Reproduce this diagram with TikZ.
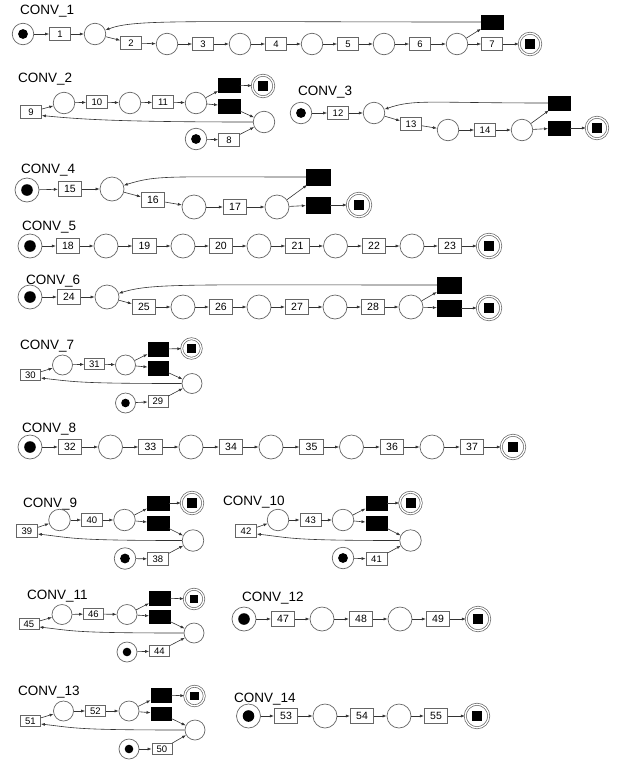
\documentclass[tikz,border=0pt]{standalone}
\usepackage{fontspec}
\setmainfont{Liberation Sans}
\usetikzlibrary{arrows.meta}

\def\tokr{4.9pt}
\def\sqh{5pt}

\tikzset{
  place/.style={circle, draw=black!60, line width=.7pt, minimum size=21.5pt, inner sep=0pt},
  initplace/.style={place, path picture={\fill[black] (path picture bounding box.center) circle (\tokr);}},
  endplace/.style={place, double, double distance=1.3pt,
    path picture={\fill[black] ([shift={(-\sqh,-\sqh)}]path picture bounding box.center) rectangle ([shift={(\sqh,\sqh)}]path picture bounding box.center);}},
  trans/.style={rectangle, draw=black!60, line width=.7pt, minimum width=21pt, minimum height=12.5pt, inner sep=0pt, font=\fontsize{9.5}{9.5}\selectfont},
  silent/.style={rectangle, fill=black, draw=black, minimum width=21.5pt, minimum height=14.5pt, inner sep=0pt},
  netlabel/.style={anchor=base west, inner sep=0pt, font=\fontsize{13.5}{14}\selectfont},
  arcto/.style={draw=black!80, line width=.6pt, -{Latex[length=4pt,width=3pt]}},
  small net/.style={place/.append style={minimum size=20pt},
    trans/.append style={minimum width=20pt, minimum height=11.5pt, font=\fontsize{9.5}{9.5}\selectfont},
    silent/.append style={minimum width=20.5pt, minimum height=13.5pt},
    endplace/.append style={minimum size=19.5pt},
    /utils/exec={\def\tokr{4.3pt}\def\sqh{4.2pt}}},
  mid net/.style={},
  big net/.style={place/.append style={minimum size=24pt},
    trans/.append style={minimum width=23.5pt, minimum height=14.5pt, font=\fontsize{10.5}{10.5}\selectfont},
    silent/.append style={minimum width=24pt, minimum height=15.5pt},
    endplace/.append style={minimum size=23.5pt},
    /utils/exec={\def\tokr{5.8pt}\def\sqh{5.2pt}}}
}

\begin{document}
\begin{tikzpicture}[x=1pt, y=-1pt]
\useasboundingbox (0,0) rectangle (623,761);

% CONV_1
\begin{scope}[mid net]
\node[netlabel] (l1) at (20,14) {CONV\_1};
\node[initplace] (c1s) at (23,34) {};
\node[trans] (t1) at (60,34) {1};
\node[place] (c1p1) at (95,34) {};
\node[trans] (t2) at (131,43) {2};
\node[place] (c1p2) at (167,44) {};
\node[trans] (t3) at (203,44) {3};
\node[place] (c1p3) at (240,44) {};
\node[trans] (t4) at (276,44) {4};
\node[place] (c1p4) at (312,44) {};
\node[trans] (t5) at (348,44) {5};
\node[place] (c1p5) at (384,44) {};
\node[trans] (t6) at (420,44) {6};
\node[place] (c1p6) at (457,44) {};
\node[trans] (t7) at (492,44) {7};
\node[silent] (c1h1) at (492,22) {};
\node[endplace] (c1e) at (530,44) {};
\foreach \a/\b in {c1s/t1, t1/c1p1, c1p1/t2, t2/c1p2, c1p2/t3, t3/c1p3, c1p3/t4, t4/c1p4,
    c1p4/t5, t5/c1p5, c1p5/t6, t6/c1p6, c1p6/t7, t7/c1e, c1p6/c1h1}
  \draw[arcto] (\a) -- (\b);
\draw[arcto] (c1h1.west) .. controls +(-300,0) and +(40,-15) .. (c1p1);
\end{scope}

% CONV_2
\begin{scope}[mid net]
\node[netlabel] (l2) at (18,82) {CONV\_2};
\node[trans] (t9) at (31,112) {9};
\node[place] (c2p1) at (64,103) {};
\node[trans] (t10) at (97,102) {10};
\node[place] (c2p2) at (130,103) {};
\node[trans] (t11) at (163,102) {11};
\node[place] (c2p3) at (196,103) {};
\node[silent] (c2h1) at (229,85) {};
\node[endplace] (c2e) at (263,86) {};
\node[silent] (c2h2) at (229,106) {};
\node[place] (c2p4) at (264,122) {};
\node[initplace] (c2s) at (196,139) {};
\node[trans] (t8) at (229,140) {8};
\foreach \a/\b in {c2s/t8, t8/c2p4, t9/c2p1, c2p1/t10, t10/c2p2, c2p2/t11, t11/c2p3,
    c2p3/c2h1, c2p3/c2h2, c2h1/c2e, c2h2/c2p4}
  \draw[arcto] (\a) -- (\b);
\draw[arcto] (c2p4) .. controls +(-140,0) and +(40,4) .. ([yshift=-3.5pt]t9.east);
\end{scope}

% CONV_3
\begin{scope}[mid net]
\node[netlabel] (l3) at (298,95) {CONV\_3};
\node[initplace] (c3s) at (301,113) {};
\node[trans] (t12) at (338,113) {12};
\node[place] (c3p1) at (374,113) {};
\node[trans] (t13) at (411,124) {13};
\node[place] (c3p2) at (448,130) {};
\node[trans] (t14) at (485,130) {14};
\node[place] (c3p3) at (522,130) {};
\node[silent] (c3h1) at (559,103) {};
\node[silent] (c3h2) at (559,128) {};
\node[endplace] (c3e) at (597,128) {};
\foreach \a/\b in {c3s/t12, t12/c3p1, c3p1/t13, t13/c3p2, c3p2/t14, t14/c3p3,
    c3p3/c3h1, c3p3/c3h2, c3h2/c3e}
  \draw[arcto] (\a) -- (\b);
\draw[arcto] (c3h1.west) .. controls +(-120,0) and +(40,-14) .. (c3p1);
\end{scope}

% CONV_4
\begin{scope}[big net]
\node[netlabel] (l4) at (21,173) {CONV\_4};
\node[initplace] (c4s) at (27,190) {};
\node[trans] (t15) at (70,189) {15};
\node[place] (c4p1) at (112,189) {};
\node[trans] (t16) at (153,200) {16};
\node[place] (c4p2) at (194,207) {};
\node[trans] (t17) at (235,207) {17};
\node[place] (c4p3) at (277,207) {};
\node[silent] (c4h1) at (318,177) {};
\node[silent] (c4h2) at (318,205) {};
\node[endplace] (c4e) at (359,205) {};
\foreach \a/\b in {c4s/t15, t15/c4p1, c4p1/t16, t16/c4p2, c4p2/t17, t17/c4p3,
    c4p3/c4h1, c4p3/c4h2, c4h2/c4e}
  \draw[arcto] (\a) -- (\b);
\draw[arcto] (c4h1.west) .. controls +(-140,0) and +(45,-14) .. (c4p1);
\end{scope}

% CONV_5
\begin{scope}[big net]
\node[netlabel] (l5) at (22,230) {CONV\_5};
\node[initplace] (c5s) at (30,246) {};
\node[trans] (t18) at (68,246) {18};
\node[place] (c5p1) at (106,246) {};
\node[trans] (t19) at (144.5,246) {19};
\node[place] (c5p2) at (183,246) {};
\node[trans] (t20) at (221,246) {20};
\node[place] (c5p3) at (259,246) {};
\node[trans] (t21) at (297.5,246) {21};
\node[place] (c5p4) at (335.5,246) {};
\node[trans] (t22) at (374,246) {22};
\node[place] (c5p5) at (412,246) {};
\node[trans] (t23) at (450,246) {23};
\node[endplace] (c5e) at (489,246) {};
\foreach \a/\b in {c5s/t18, t18/c5p1, c5p1/t19, t19/c5p2, c5p2/t20, t20/c5p3, c5p3/t21,
    t21/c5p4, c5p4/t22, t22/c5p5, c5p5/t23, t23/c5e}
  \draw[arcto] (\a) -- (\b);
\end{scope}

% CONV_6
\begin{scope}[big net]
\node[netlabel] (l6) at (26,284) {CONV\_6};
\node[initplace] (c6s) at (30,297) {};
\node[trans] (t24) at (69,297) {24};
\node[place] (c6p1) at (107,297) {};
\node[trans] (t25) at (144,307) {25};
\node[place] (c6p2) at (183,307) {};
\node[trans] (t26) at (221,307) {26};
\node[place] (c6p3) at (259,307) {};
\node[trans] (t27) at (297,307) {27};
\node[place] (c6p4) at (335,307) {};
\node[trans] (t28) at (373,307) {28};
\node[place] (c6p5) at (411,307) {};
\node[silent] (c6h1) at (449,285) {};
\node[silent] (c6h2) at (449,308) {};
\node[endplace] (c6e) at (489,308) {};
\foreach \a/\b in {c6s/t24, t24/c6p1, c6p1/t25, t25/c6p2, c6p2/t26, t26/c6p3, c6p3/t27,
    t27/c6p4, c6p4/t28, t28/c6p5, c6p5/c6h1, c6p5/c6h2, c6h2/c6e}
  \draw[arcto] (\a) -- (\b);
\draw[arcto] (c6h1.west) .. controls +(-250,0) and +(45,-14) .. (c6p1);
\end{scope}

% CONV_7
\begin{scope}[small net]
\node[netlabel] (l7) at (20,349) {CONV\_7};
\node[trans] (t30) at (30.5,375) {30};
\node[place] (c7p1) at (62.5,365) {};
\node[trans] (t31) at (94.5,364) {31};
\node[place] (c7p2) at (125.5,365) {};
\node[silent] (c7h1) at (158,349) {};
\node[endplace] (c7e) at (191.5,348.5) {};
\node[silent] (c7h2) at (158,368) {};
\node[place] (c7p3) at (192,383.5) {};
\node[initplace] (c7s) at (125.5,403) {};
\node[trans] (t29) at (158,401.5) {29};
\foreach \a/\b in {c7s/t29, t29/c7p3, t30/c7p1, c7p1/t31, t31/c7p2,
    c7p2/c7h1, c7p2/c7h2, c7h1/c7e, c7h2/c7p3}
  \draw[arcto] (\a) -- (\b);
\draw[arcto] (c7p3) .. controls +(-110,0) and +(35,4) .. ([yshift=-3pt]t30.east);
\end{scope}

% CONV_8
\begin{scope}[big net]
\node[netlabel] (l8) at (22,432) {CONV\_8};
\node[initplace] (c8s) at (30,447) {};
\node[trans] (t32) at (70,447) {32};
\node[place] (c8p1) at (110.5,447) {};
\node[trans] (t33) at (150.5,447) {33};
\node[place] (c8p2) at (191,447) {};
\node[trans] (t34) at (231,447) {34};
\node[place] (c8p3) at (271,447) {};
\node[trans] (t35) at (311.5,447) {35};
\node[place] (c8p4) at (351.5,447) {};
\node[trans] (t36) at (392,447) {36};
\node[place] (c8p5) at (432,447) {};
\node[trans] (t37) at (472,447) {37};
\node[endplace] (c8e) at (513,447) {};
\foreach \a/\b in {c8s/t32, t32/c8p1, c8p1/t33, t33/c8p2, c8p2/t34, t34/c8p3, c8p3/t35,
    t35/c8p4, c8p4/t36, t36/c8p5, c8p5/t37, t37/c8e}
  \draw[arcto] (\a) -- (\b);
\end{scope}

% CONV_9
\begin{scope}[mid net]
\node[netlabel] (l9) at (23,507) {CONV\_9};
\node[trans] (t39) at (27,531) {39};
\node[place] (c9p1) at (59.5,520) {};
\node[trans] (t40) at (92,520) {40};
\node[place] (c9p2) at (124.5,520) {};
\node[silent] (c9h1) at (158,503) {};
\node[endplace] (c9e) at (192,503) {};
\node[silent] (c9h2) at (158,523) {};
\node[place] (c9p3) at (193,540.5) {};
\node[initplace] (c9s) at (125,558.5) {};
\node[trans] (t38) at (158,559) {38};
\foreach \a/\b in {c9s/t38, t38/c9p3, t39/c9p1, c9p1/t40, t40/c9p2,
    c9p2/c9h1, c9p2/c9h2, c9h1/c9e, c9h2/c9p3}
  \draw[arcto] (\a) -- (\b);
\draw[arcto] (c9p3) .. controls +(-120,0) and +(35,4) .. ([yshift=-3pt]t39.east);
\end{scope}

% CONV_10
\begin{scope}[mid net]
\node[netlabel] (l10) at (223,505) {CONV\_10};
\node[trans] (t42) at (246,531) {42};
\node[place] (c10p1) at (278,520) {};
\node[trans] (t43) at (310.5,520) {43};
\node[place] (c10p2) at (343,520) {};
\node[silent] (c10h1) at (376.5,503) {};
\node[endplace] (c10e) at (410.5,503) {};
\node[silent] (c10h2) at (376.5,523) {};
\node[place] (c10p3) at (410.5,540.5) {};
\node[initplace] (c10s) at (343,558) {};
\node[trans] (t41) at (376.5,559) {41};
\foreach \a/\b in {c10s/t41, t41/c10p3, t42/c10p1, c10p1/t43, t43/c10p2,
    c10p2/c10h1, c10p2/c10h2, c10h1/c10e, c10h2/c10p3}
  \draw[arcto] (\a) -- (\b);
\draw[arcto] (c10p3) .. controls +(-120,0) and +(35,4) .. ([yshift=-3pt]t42.east);
\end{scope}

% CONV_11
\begin{scope}[small net]
\node[netlabel] (l11) at (27,599) {CONV\_11};
\node[trans] (t45) at (29,624) {45};
\node[place] (c11p1) at (62,614.5) {};
\node[trans] (t46) at (93.5,614) {46};
\node[place] (c11p2) at (127,614.5) {};
\node[silent] (c11h1) at (159.5,598) {};
\node[endplace] (c11e) at (194,599) {};
\node[silent] (c11h2) at (159.5,616.5) {};
\node[place] (c11p3) at (194,633) {};
\node[initplace] (c11s) at (127,652) {};
\node[trans] (t44) at (159.5,651) {44};
\foreach \a/\b in {c11s/t44, t44/c11p3, t45/c11p1, c11p1/t46, t46/c11p2,
    c11p2/c11h1, c11p2/c11h2, c11h1/c11e, c11h2/c11p3}
  \draw[arcto] (\a) -- (\b);
\draw[arcto] (c11p3) .. controls +(-120,0) and +(35,4) .. ([yshift=-3pt]t45.east);
\end{scope}

% CONV_12
\begin{scope}[big net]
\node[netlabel] (l12) at (242,601) {CONV\_12};
\node[initplace] (c12s) at (244,619) {};
\node[trans] (t47) at (283,619) {47};
\node[place] (c12p1) at (322,619) {};
\node[trans] (t48) at (361,619) {48};
\node[place] (c12p2) at (400,619) {};
\node[trans] (t49) at (438,619) {49};
\node[endplace] (c12e) at (478,619) {};
\foreach \a/\b in {c12s/t47, t47/c12p1, c12p1/t48, t48/c12p2, c12p2/t49, t49/c12e}
  \draw[arcto] (\a) -- (\b);
\end{scope}

% CONV_13
\begin{scope}[small net]
\node[netlabel] (l13) at (18,695) {CONV\_13};
\node[trans] (t51) at (30.5,721) {51};
\node[place] (c13p1) at (63.5,711) {};
\node[trans] (t52) at (95.5,711) {52};
\node[place] (c13p2) at (129,711) {};
\node[silent] (c13h1) at (161,695) {};
\node[endplace] (c13e) at (194.5,696) {};
\node[silent] (c13h2) at (161,713.5) {};
\node[place] (c13p3) at (195,730) {};
\node[initplace] (c13s) at (129,749) {};
\node[trans] (t50) at (162,749) {50};
\foreach \a/\b in {c13s/t50, t50/c13p3, t51/c13p1, c13p1/t52, t52/c13p2,
    c13p2/c13h1, c13p2/c13h2, c13h1/c13e, c13h2/c13p3}
  \draw[arcto] (\a) -- (\b);
\draw[arcto] (c13p3) .. controls +(-120,0) and +(35,4) .. ([yshift=-3pt]t51.east);
\end{scope}

% CONV_14
\begin{scope}[big net]
\node[netlabel] (l14) at (234,702) {CONV\_14};
\node[initplace] (c14s) at (248.5,716) {};
\node[trans] (t53) at (286,716) {53};
\node[place] (c14p1) at (325,716) {};
\node[trans] (t54) at (362,716) {54};
\node[place] (c14p2) at (399,716) {};
\node[trans] (t55) at (436,716) {55};
\node[endplace] (c14e) at (477,716) {};
\foreach \a/\b in {c14s/t53, t53/c14p1, c14p1/t54, t54/c14p2, c14p2/t55, t55/c14e}
  \draw[arcto] (\a) -- (\b);
\end{scope}
\end{tikzpicture}
\end{document}
